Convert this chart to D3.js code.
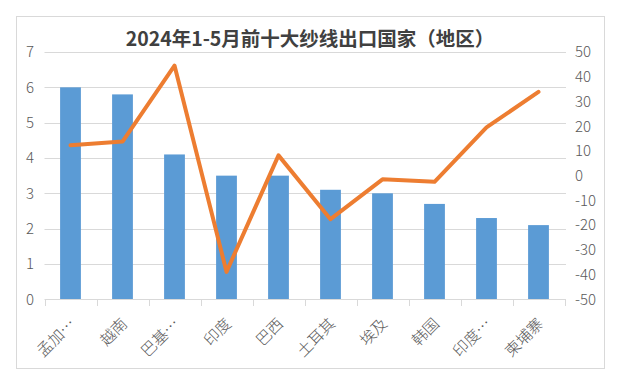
<!DOCTYPE html>
<html><head><meta charset="utf-8">
<script src="https://cdn.jsdelivr.net/npm/d3@7/dist/d3.min.js"></script>
<style>body{margin:0;background:#fff;}svg{display:block;}</style>
</head><body>
<svg id="c" width="617" height="381"></svg>
<script>
const title = "2024年1-5月前十大纱线出口国家（地区）";
const categories = ["孟加…","越南","巴基…","印度","巴西","土耳其","埃及","韩国","印度…","柬埔寨"];
const barValues = [6.0,5.8,4.1,3.5,3.5,3.1,3.0,2.7,2.3,2.1];
const lineValues = [12.3,13.8,44.5,-38.9,8.2,-17.6,-1.5,-2.5,19.5,33.9];
const leftTicks = [0,1,2,3,4,5,6,7];
const rightTicks = [-50,-40,-30,-20,-10,0,10,20,30,40,50];

const svg = d3.select("#c");
const font = "'Noto Sans CJK SC', 'Noto Sans', sans-serif";
const gray = "#595959";

svg.append("rect").attr("x",16.5).attr("y",16.5).attr("width",588).attr("height",352)
  .attr("fill","#fff").attr("stroke","#d9d9d9").attr("stroke-width",1);

const x = d3.scaleBand().domain(categories).range([44.5,564.5]).paddingInner(0.6).paddingOuter(0.3);
const yL = d3.scaleLinear().domain([0,7]).range([299.3,52]);
const yR = d3.scaleLinear().domain([-50,50]).range([299.3,52]);

svg.append("text").attr("x",310).attr("y",46).attr("text-anchor","middle")
  .attr("font-family",font).attr("font-weight","bold").attr("font-size",19.5).attr("fill","#404040").text(title);

// gridlines
svg.append("g").selectAll("line").data(leftTicks.filter(d=>d>0)).join("line")
  .attr("x1",44.5).attr("x2",566).attr("y1",d=>Math.round(yL(d))+0.5).attr("y2",d=>Math.round(yL(d))+0.5)
  .attr("stroke","#d9d9d9").attr("stroke-width",1);

// left axis labels
const gl = svg.append("g").attr("transform","translate(34,0)")
  .call(d3.axisLeft(yL).tickValues(leftTicks).tickFormat(d3.format("d")).tickSize(0).tickPadding(0));
gl.select(".domain").remove();
gl.selectAll("text").attr("font-family",font).attr("font-weight",300).attr("font-size",15).attr("fill",gray);

// right axis labels
const gr = svg.append("g").attr("transform","translate(575,0)")
  .call(d3.axisRight(yR).tickValues(rightTicks).tickFormat(d=>String(d)).tickSize(0).tickPadding(0));
gr.select(".domain").remove();
gr.selectAll("text").attr("font-family",font).attr("font-weight",300).attr("font-size",15).attr("fill",gray);

// bars
svg.append("g").selectAll("rect").data(barValues).join("rect")
  .attr("x",(d,i)=>x(categories[i])).attr("width",x.bandwidth())
  .attr("y",d=>yL(d)).attr("height",d=>yL(0)-yL(d)).attr("fill","#5B9BD5");

// bottom axis
const xb = d3.scaleLinear().domain([0,categories.length]).range([44.5,564.5]);
const ga = svg.append("g");
ga.append("line").attr("x1",44.5).attr("x2",566).attr("y1",299.5).attr("y2",299.5).attr("stroke","#d9d9d9");
ga.selectAll("line.t").data(d3.range(categories.length+1)).join("line").attr("class","t")
  .attr("x1",d=>Math.round(xb(d))+0.5).attr("x2",d=>Math.round(xb(d))+0.5)
  .attr("y1",299.5).attr("y2",306).attr("stroke","#d9d9d9");
ga.selectAll("text").data(categories).join("text")
  .attr("transform",d=>`translate(${x(d)+x.bandwidth()/2+2},321) rotate(-45)`)
  .attr("text-anchor","end").attr("dy","0.35em")
  .attr("font-family",font).attr("font-weight",300).attr("font-size",15.5).attr("fill",gray).text(d=>d);

// line
const line = d3.line().x((d,i)=>x(categories[i])+x.bandwidth()/2).y(d=>yR(d));
svg.append("path").datum(lineValues).attr("d",line).attr("fill","none")
  .attr("stroke","#ED7D31").attr("stroke-width",4).attr("stroke-linejoin","round").attr("stroke-linecap","round");
</script>
</body></html>
